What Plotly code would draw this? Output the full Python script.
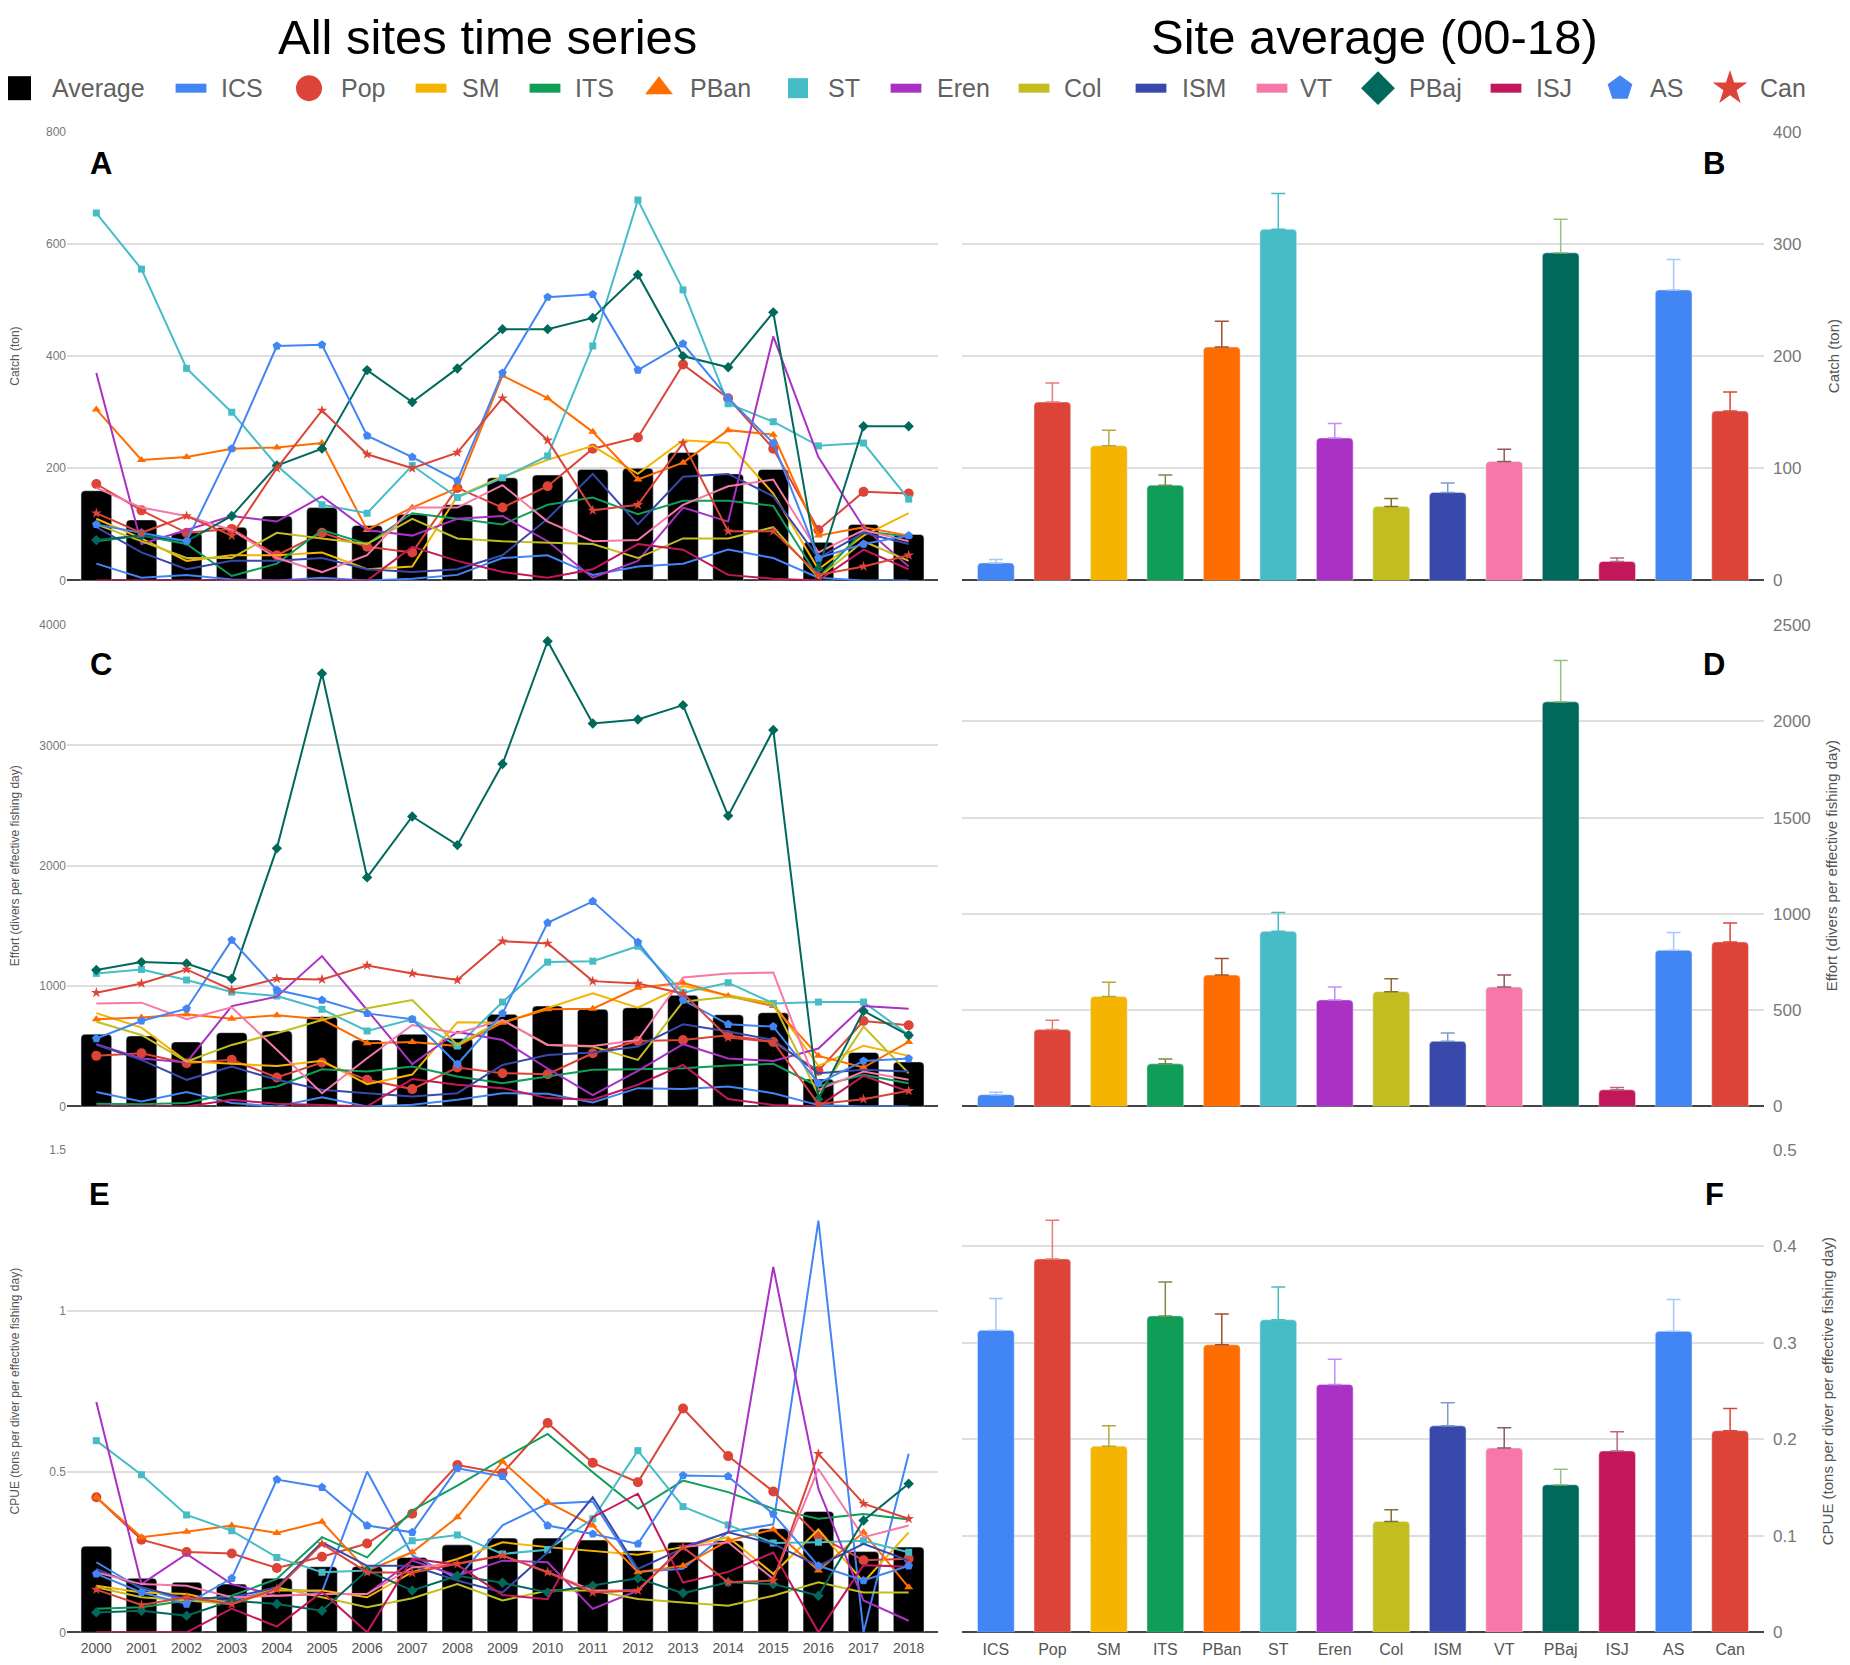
import plotly.graph_objects as go

W, H = 1850, 1665

years = ["2000", "2001", "2002", "2003", "2004", "2005", "2006", "2007", "2008", "2009",
         "2010", "2011", "2012", "2013", "2014", "2015", "2016", "2017", "2018"]
sites = ["ICS", "Pop", "SM", "ITS", "PBan", "ST", "Eren", "Col", "ISM", "VT", "PBaj", "ISJ", "AS", "Can"]

site_colors = ["#4285f4", "#db4437", "#f4b400", "#0f9d58", "#ff6d00", "#46bdc6", "#ab30c4",
               "#c2be1f", "#3949ab", "#f778a8", "#00695c", "#c2185b", "#4285f4", "#db4437"]
error_colors = ["#a8c7fa", "#e67c73", "#b5a642", "#7c8b4a", "#a0522d", "#46bdc6", "#c58af9",
                "#8b6d2f", "#7a9cc6", "#8e5a5a", "#93c47d", "#b36b7a", "#a8c7fa", "#db4437"]

# ---- A: catch (ton) per year
catch_avg = [160, 108, 85, 95, 115, 130, 98, 118, 135, 183, 188, 198, 200, 228, 190, 198, 68, 100, 82]
catch_ics = [30, 5, 10, 2, 0, 5, 0, 3, 10, 40, 45, 10, 25, 30, 55, 40, 5, 0, 0]
catch_pop = [172, 125, 85, 92, 45, 85, 60, 50, 165, 130, 168, 235, 255, 385, 325, 235, 90, 158, 155]
catch_sm = [110, 75, 35, 45, 45, 50, 20, 25, 150, 185, 215, 240, 190, 250, 245, 155, 20, 80, 120]
catch_its = [70, 80, 65, 8, 30, 90, 65, 120, 110, 100, 135, 148, 118, 142, 142, 133, 5, 88, 78]
catch_pban = [305, 215, 220, 235, 237, 245, 90, 130, 165, 365, 325, 265, 180, 210, 268, 260, 80, 95, 80]
catch_st = [655, 555, 378, 300, 205, 135, 120, 205, 148, 183, 222, 418, 678, 518, 315, 283, 240, 245, 145]
catch_eren = [370, 65, 90, 115, 105, 150, 90, 80, 110, 115, 70, 5, 35, 130, 105, 435, 220, 95, 25]
catch_col = [100, 70, 40, 40, 85, 75, 65, 110, 75, 70, 67, 65, 40, 75, 75, 95, 5, 70, 35]
catch_ism = [95, 50, 20, 35, 35, 40, 20, 15, 20, 45, 110, 190, 100, 185, 190, 150, 40, 85, 65]
catch_vt = [165, 130, 115, 90, 40, 15, 45, 130, 130, 170, 105, 70, 72, 135, 168, 180, 50, 90, 70]
catch_pbaj = [72, 80, 70, 115, 205, 235, 375, 318, 378, 448, 448, 468, 545, 400, 380, 478, 20, 275, 275]
catch_isj = [0, 0, 0, 0, 0, 0, 0, 60, 35, 15, 5, 20, 65, 55, 10, 3, 0, 55, 20]
catch_as = [100, 85, 70, 235, 418, 420, 258, 220, 178, 370, 505, 510, 375, 422, 325, 245, 40, 65, 80]
catch_can = [120, 85, 115, 80, 200, 303, 225, 200, 228, 325, 250, 125, 135, 245, 88, 88, 10, 25, 45]

# ---- C: effort (divers per effective fishing day) per year
effort_avg = [600, 586, 536, 613, 627, 746, 552, 600, 564, 765, 834, 807, 820, 923, 762, 779, 227, 448, 370]
effort_ics = [119, 41, 119, 28, 0, 77, 0, 14, 55, 110, 105, 33, 152, 144, 166, 110, 11, 0, 0]
effort_pop = [420, 442, 359, 387, 240, 365, 221, 144, 323, 276, 268, 442, 544, 552, 591, 536, 296, 710, 674]
effort_sm = [775, 655, 375, 355, 335, 380, 185, 265, 700, 696, 820, 939, 820, 1000, 923, 856, 337, 503, 420]
effort_its = [22, 19, 28, 110, 166, 309, 290, 331, 249, 193, 249, 304, 309, 318, 340, 354, 166, 262, 193]
effort_pban = [724, 738, 765, 729, 757, 724, 525, 536, 503, 696, 807, 812, 986, 1028, 917, 834, 420, 323, 536]
effort_st = [1105, 1138, 1050, 950, 917, 807, 627, 724, 503, 867, 1199, 1207, 1331, 945, 1028, 856, 867, 867, 594]
effort_eren = [517, 398, 365, 834, 912, 1249, 801, 351, 619, 552, 315, 94, 296, 517, 398, 378, 481, 834, 812]
effort_col = [704, 594, 373, 511, 608, 718, 815, 884, 511, 718, 511, 497, 387, 870, 912, 856, 97, 663, 276]
effort_ism = [511, 387, 221, 331, 221, 138, 110, 83, 110, 345, 428, 448, 497, 682, 622, 552, 276, 304, 290]
effort_vt = [856, 862, 724, 823, 470, 110, 400, 677, 608, 718, 511, 503, 552, 1072, 1105, 1113, 138, 290, 221]
effort_pbaj = [1133, 1199, 1188, 1061, 2144, 3597, 1903, 2409, 2171, 2845, 3865, 3182, 3215, 3334, 2414, 3127, 60, 793, 591]
effort_isj = [0, 0, 0, 55, 22, 11, 0, 227, 180, 152, 69, 55, 180, 345, 61, 11, 0, 254, 124]
effort_as = [564, 710, 812, 1381, 967, 884, 773, 724, 351, 773, 1525, 1704, 1365, 884, 682, 663, 193, 378, 398]
effort_can = [945, 1022, 1138, 967, 1061, 1055, 1171, 1105, 1050, 1373, 1354, 1041, 1022, 939, 572, 536, 20, 60, 130]

# ---- E: CPUE (tons per diver per effective fishing day) per year
cpue_avg = [0.268, 0.168, 0.156, 0.15, 0.168, 0.204, 0.205, 0.233, 0.272, 0.293, 0.293, 0.287, 0.254, 0.28, 0.285, 0.322, 0.376, 0.251, 0.265]
cpue_ics = [0.218, 0.135, 0.099, 0.099, 0.135, 0.126, 0.5, 0.24, 0.167, 0.333, 0.40, 0.407, 0.188, 0.198, 0.312, 0.336, 1.28, 0.0, 0.555]
cpue_pop = [0.42, 0.288, 0.25, 0.245, 0.20, 0.235, 0.276, 0.369, 0.52, 0.495, 0.651, 0.527, 0.467, 0.696, 0.548, 0.438, 0.30, 0.224, 0.229]
cpue_sm = [0.145, 0.124, 0.119, 0.088, 0.13, 0.13, 0.109, 0.187, 0.228, 0.28, 0.265, 0.254, 0.241, 0.265, 0.296, 0.182, 0.32, 0.156, 0.311]
cpue_its = [0.073, 0.078, 0.099, 0.114, 0.166, 0.296, 0.233, 0.379, 0.456, 0.539, 0.617, 0.498, 0.384, 0.472, 0.436, 0.384, 0.353, 0.368, 0.351]
cpue_pban = [0.42, 0.296, 0.313, 0.332, 0.309, 0.344, 0.192, 0.249, 0.358, 0.531, 0.405, 0.332, 0.187, 0.207, 0.285, 0.32, 0.192, 0.311, 0.14]
cpue_st = [0.596, 0.49, 0.365, 0.316, 0.233, 0.187, 0.192, 0.285, 0.303, 0.244, 0.257, 0.353, 0.565, 0.391, 0.334, 0.278, 0.28, 0.285, 0.249]
cpue_eren = [0.716, 0.15, 0.244, 0.15, 0.114, 0.119, 0.119, 0.223, 0.176, 0.223, 0.218, 0.073, 0.13, 0.265, 0.311, 1.136, 0.446, 0.099, 0.036]
cpue_col = [0.14, 0.109, 0.099, 0.088, 0.14, 0.109, 0.078, 0.106, 0.15, 0.099, 0.13, 0.13, 0.104, 0.093, 0.083, 0.114, 0.156, 0.124, 0.124]
cpue_ism = [0.197, 0.14, 0.104, 0.109, 0.14, 0.28, 0.207, 0.207, 0.161, 0.124, 0.249, 0.42, 0.197, 0.261, 0.311, 0.275, 0.207, 0.275, 0.223]
cpue_vt = [0.187, 0.15, 0.145, 0.109, 0.114, 0.119, 0.119, 0.202, 0.213, 0.239, 0.187, 0.13, 0.13, 0.265, 0.28, 0.166, 0.508, 0.296, 0.332]
cpue_pbaj = [0.062, 0.067, 0.052, 0.099, 0.088, 0.067, 0.192, 0.13, 0.176, 0.154, 0.124, 0.145, 0.168, 0.122, 0.156, 0.15, 0.114, 0.348, 0.462]
cpue_isj = [0.0, 0.0, 0.0, 0.074, 0.018, 0.126, 0.0, 0.229, 0.21, 0.116, 0.103, 0.358, 0.431, 0.155, 0.188, 0.248, 0.0, 0.209, 0.204]
cpue_as = [0.182, 0.124, 0.088, 0.168, 0.475, 0.451, 0.332, 0.311, 0.51, 0.485, 0.332, 0.306, 0.275, 0.488, 0.485, 0.368, 0.207, 0.161, 0.207]
cpue_can = [0.133, 0.085, 0.109, 0.088, 0.135, 0.275, 0.187, 0.185, 0.213, 0.239, 0.187, 0.124, 0.13, 0.265, 0.156, 0.161, 0.555, 0.40, 0.353]

# ---- B, D, F: site averages 2000-2018 with error
catch_mean = [15.7, 159, 120, 85, 208, 313, 127, 66, 78.5, 106, 292, 17, 259, 151]
catch_err = [3.1, 17, 14, 9, 23, 32, 13, 7, 8.5, 11, 30, 3, 27, 17]
effort_mean = [61, 399, 571, 221, 682, 909, 553, 596, 338, 620, 2101, 86, 811, 854]
effort_err = [13, 49, 74, 25, 86, 98, 67, 67, 43, 62, 215, 12, 92, 98]
cpue_mean = [0.313, 0.387, 0.193, 0.328, 0.298, 0.324, 0.257, 0.115, 0.214, 0.191, 0.153, 0.188, 0.312, 0.209]
cpue_err = [0.033, 0.040, 0.021, 0.035, 0.032, 0.034, 0.026, 0.012, 0.024, 0.021, 0.016, 0.020, 0.033, 0.023]

catch_series = [catch_ics, catch_pop, catch_sm, catch_its, catch_pban, catch_st, catch_eren,
                catch_col, catch_ism, catch_vt, catch_pbaj, catch_isj, catch_as, catch_can]
effort_series = [effort_ics, effort_pop, effort_sm, effort_its, effort_pban, effort_st, effort_eren,
                 effort_col, effort_ism, effort_vt, effort_pbaj, effort_isj, effort_as, effort_can]
cpue_series = [cpue_ics, cpue_pop, cpue_sm, cpue_its, cpue_pban, cpue_st, cpue_eren,
               cpue_col, cpue_ism, cpue_vt, cpue_pbaj, cpue_isj, cpue_as, cpue_can]

# marker style for the series that show one
markers = {"Pop": ("circle", 10), "PBan": ("triangle-up", 8), "ST": ("square", 7),
           "PBaj": ("diamond", 8), "AS": ("pentagon", 9), "Can": ("star", 8)}

FONT = "Liberation Sans, Arial, sans-serif"
fig = go.Figure()

# left panels: yearly time series
left_panels = [("x", "y", catch_avg, catch_series),
               ("x3", "y3", effort_avg, effort_series),
               ("x5", "y5", cpue_avg, cpue_series)]
for xa, ya, avg, series in left_panels:
    fig.add_trace(go.Bar(x=years, y=avg, name="Average", marker_color="black",
                         width=0.68, xaxis=xa, yaxis=ya, showlegend=False))
    for site, color, vals in zip(sites, site_colors, series):
        if site in markers:
            sym, size = markers[site]
            fig.add_trace(go.Scatter(x=years, y=vals, name=site, mode="lines+markers",
                                     line=dict(color=color, width=2),
                                     marker=dict(symbol=sym, size=size, color=color),
                                     xaxis=xa, yaxis=ya, showlegend=False))
        else:
            fig.add_trace(go.Scatter(x=years, y=vals, name=site, mode="lines",
                                     line=dict(color=color, width=2),
                                     xaxis=xa, yaxis=ya, showlegend=False))

# right panels: site averages
right_panels = [("x2", "y2", catch_mean, catch_err),
                ("x4", "y4", effort_mean, effort_err),
                ("x6", "y6", cpue_mean, cpue_err)]
for xa, ya, means, errs in right_panels:
    for site, color, ecolor, m, e in zip(sites, site_colors, error_colors, means, errs):
        fig.add_trace(go.Bar(x=[site], y=[m], name=site, marker_color=color, width=0.65,
                             error_y=dict(type="data", array=[e], arrayminus=[0], symmetric=False,
                                          color=ecolor, thickness=1.5, width=7),
                             xaxis=xa, yaxis=ya, showlegend=False))

# legend row drawn on a hidden overlay axis in pixel units
legend_names = ["Average"] + sites
legend_colors = ["black"] + site_colors
legend_sym_x = [11, 183, 301, 423, 537, 651, 790, 898, 1026, 1143, 1264, 1370, 1498, 1612, 1722]
legend_txt_x = [42, 211, 331, 452, 565, 680, 818, 927, 1054, 1172, 1290, 1399, 1526, 1640, 1750]
legend_y = 72
legend_marks = {"Average": ("square", 24), "Pop": ("circle", 26), "PBan": ("triangle-up", 24),
                "ST": ("square", 20), "PBaj": ("diamond", 26), "AS": ("pentagon", 26),
                "Can": ("star", 26)}
for name, color, sx in zip(legend_names, legend_colors, legend_sym_x):
    if name in legend_marks:
        sym, size = legend_marks[name]
        mk = dict(symbol=sym, size=size, color=color, line=dict(width=0))
    else:
        mk = dict(symbol="line-ew", size=22, line=dict(color=color, width=9))
    fig.add_trace(go.Scatter(x=[sx], y=[legend_y], mode="markers", marker=mk, name=name,
                             xaxis="x7", yaxis="y7", showlegend=False, hoverinfo="skip"))

annotations = []
for name, tx in zip(legend_names, legend_txt_x):
    annotations.append(dict(text=name, x=tx, y=legend_y, xref="x7", yref="y7",
                            xanchor="left", yanchor="middle", showarrow=False,
                            font=dict(size=25, color="#616161", family=FONT)))

annotations.append(dict(text="All sites time series", x=479 / W, y=1 - 20 / H, xref="paper", yref="paper",
                        showarrow=False, xanchor="center", yanchor="middle",
                        font=dict(size=49, color="black", family=FONT)))
annotations.append(dict(text="Site average (00-18)", x=1366 / W, y=1 - 20 / H, xref="paper", yref="paper",
                        showarrow=False, xanchor="center", yanchor="middle",
                        font=dict(size=49, color="black", family=FONT)))

for letter, lx, ly in [("A", 93, 148), ("B", 1706, 148), ("C", 93, 655),
                       ("D", 1706, 655), ("E", 91, 1191), ("F", 1706, 1191)]:
    annotations.append(dict(text="<b>" + letter + "</b>", x=lx / W, y=1 - ly / H, xref="paper", yref="paper",
                            showarrow=False, xanchor="center", yanchor="middle",
                            font=dict(size=31, color="black", family=FONT)))

left_dom = [59 / W, 930 / W]
right_dom = [954 / W, 1756 / W]
rows = [[1 - 570 / H, 1 - 116 / H], [1 - 1102 / H, 1 - 615 / H], [1 - 1634 / H, 1 - 1146 / H]]

def xax(dom, anchor, rng, show, size):
    return dict(domain=dom, anchor=anchor, type="category", range=rng, showgrid=False,
                showticklabels=show, ticks="", showline=False, zeroline=False, ticklabelstandoff=6,
                tickfont=dict(size=size, color="#555555", family=FONT))

def yax_left(dom, anchor, rng, dtick, title, standoff):
    return dict(domain=dom, anchor=anchor, range=rng, dtick=dtick, showgrid=True,
                gridcolor="#dedede", gridwidth=1.5, zeroline=True, zerolinecolor="#444444",
                zerolinewidth=2, ticks="", tickfont=dict(size=12, color="#777777", family=FONT),
                title=dict(text=title, font=dict(size=12, color="#555555", family=FONT), standoff=standoff))

def yax_right(dom, anchor, rng, dtick, title, standoff):
    return dict(domain=dom, anchor=anchor, side="right", range=rng, dtick=dtick, showgrid=True,
                gridcolor="#dedede", gridwidth=1.5, zeroline=True, zerolinecolor="#444444",
                zerolinewidth=2, ticks="", ticklabelstandoff=8,
                tickfont=dict(size=17, color="#777777", family=FONT),
                title=dict(text=title, font=dict(size=15, color="#555555", family=FONT), standoff=standoff))

lrange = [-0.65, 18.65]
rrange = [-0.6, 13.6]

fig.update_layout(
    width=W, height=H,
    margin=dict(l=0, r=0, t=0, b=0),
    paper_bgcolor="white", plot_bgcolor="rgba(0,0,0,0)",
    barmode="overlay", barcornerradius=4,
    font=dict(family=FONT),
    showlegend=False,
    annotations=annotations,
    xaxis=xax(left_dom, "y", lrange, False, 14),
    yaxis=yax_left(rows[0], "x", [0, 800], 200, "Catch (ton)", 24),
    xaxis2=xax(right_dom, "y2", rrange, False, 16),
    yaxis2=yax_right(rows[0], "x2", [0, 400], 100, "Catch (ton)", 28),
    xaxis3=xax(left_dom, "y3", lrange, False, 14),
    yaxis3=yax_left(rows[1], "x3", [0, 4000], 1000, "Effort (divers per effective fishing day)", 19),
    xaxis4=xax(right_dom, "y4", rrange, False, 16),
    yaxis4=yax_right(rows[1], "x4", [0, 2500], 500, "Effort (divers per effective fishing day)", 16),
    xaxis5=xax(left_dom, "y5", lrange, True, 14),
    yaxis5=yax_left(rows[2], "x5", [0, 1.5], 0.5, "CPUE (tons per diver per effective fishing day)", 27),
    xaxis6=xax(right_dom, "y6", rrange, True, 16),
    yaxis6=yax_right(rows[2], "x6", [0, 0.5], 0.1, "CPUE (tons per diver per effective fishing day)", 26),
    xaxis7=dict(domain=[0, 1], anchor="y7", range=[0, W], visible=False),
    yaxis7=dict(domain=[0, 1], anchor="x7", range=[H, 0], visible=False),
)

fig.write_html("out.html")
